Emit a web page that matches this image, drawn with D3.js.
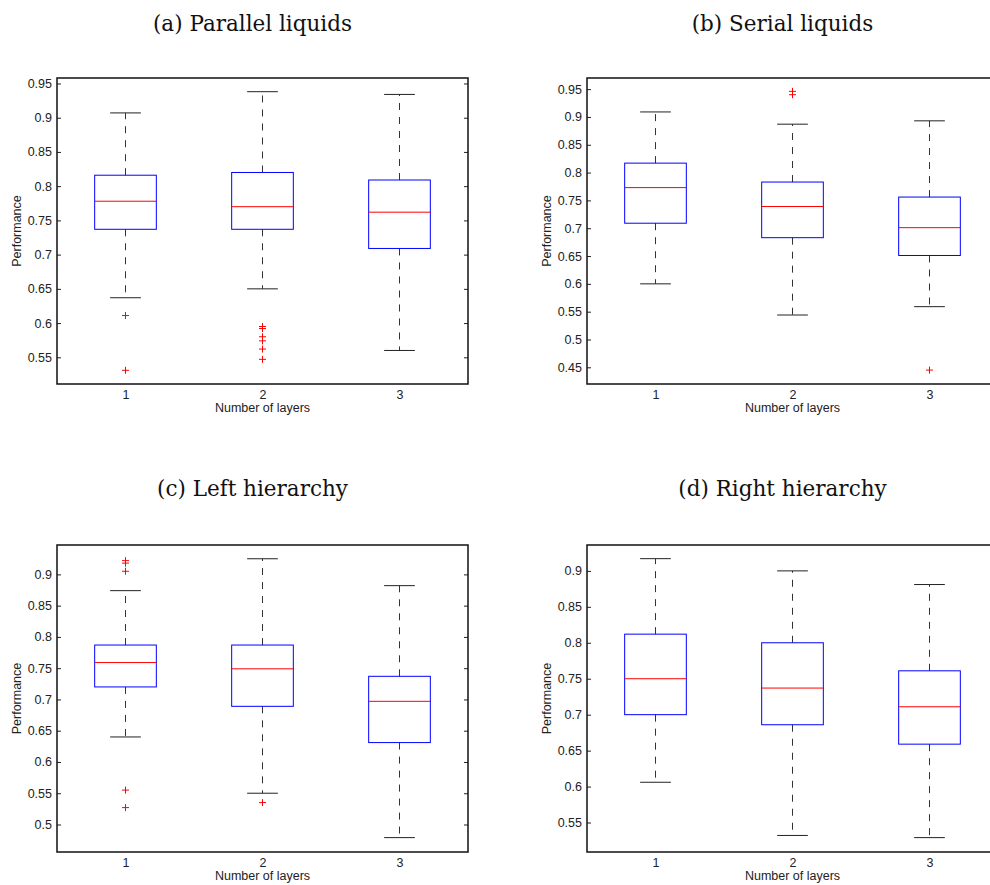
<!DOCTYPE html>
<html>
<head>
<meta charset="utf-8">
<script src="https://cdn.jsdelivr.net/npm/d3@7"></script>
<style>
  body { margin: 0; background: #fff; }
  .tick text { font-family: "Liberation Sans", Arial, sans-serif; font-size: 12.5px; fill: #222; }
  .axis-label { font-family: "Liberation Sans", Arial, sans-serif; font-size: 12.5px; fill: #222; }
  .title { font-family: "DejaVu Serif", serif; font-size: 21.5px; fill: #111; }
</style>
</head>
<body>
<div id="chart"></div>
<script>
// x categories
var layers = [1, 2, 3];

// panel titles
var titles = ["(a) Parallel liquids", "(b) Serial liquids", "(c) Left hierarchy", "(d) Right hierarchy"];

// box stats per layer: [lower whisker, q1, median, q3, upper whisker]
var parallelStats = [
  [0.637, 0.737, 0.778, 0.816, 0.907],
  [0.650, 0.737, 0.770, 0.820, 0.938],
  [0.560, 0.709, 0.762, 0.809, 0.934]
];
var serialStats = [
  [0.600, 0.709, 0.773, 0.817, 0.909],
  [0.544, 0.683, 0.739, 0.783, 0.887],
  [0.559, 0.651, 0.701, 0.756, 0.893]
];
var leftStats = [
  [0.640, 0.720, 0.759, 0.787, 0.874],
  [0.550, 0.689, 0.749, 0.787, 0.925],
  [0.479, 0.631, 0.697, 0.737, 0.882]
];
var rightStats = [
  [0.606, 0.700, 0.750, 0.812, 0.917],
  [0.532, 0.686, 0.737, 0.800, 0.900],
  [0.529, 0.659, 0.711, 0.761, 0.881]
];

// outliers per layer
var parallelOutliers = [[0.611, 0.531], [0.595, 0.592, 0.580, 0.574, 0.562, 0.547], []];
var serialOutliers = [[], [0.946, 0.940], [0.445]];
var leftOutliers = [[0.922, 0.918, 0.905, 0.555, 0.527], [0.535], []];
var rightOutliers = [[], [], []];

// y axis ranges and ticks
var yDomains = [[0.511, 0.958], [0.420, 0.970], [0.456, 0.947], [0.509, 0.936]];
var yTicks = [
  [0.55, 0.6, 0.65, 0.7, 0.75, 0.8, 0.85, 0.9, 0.95],
  [0.45, 0.5, 0.55, 0.6, 0.65, 0.7, 0.75, 0.8, 0.85, 0.9, 0.95],
  [0.5, 0.55, 0.6, 0.65, 0.7, 0.75, 0.8, 0.85, 0.9],
  [0.55, 0.6, 0.65, 0.7, 0.75, 0.8, 0.85, 0.9]
];

var allStats = [parallelStats, serialStats, leftStats, rightStats];
var allOutliers = [parallelOutliers, serialOutliers, leftOutliers, rightOutliers];

var svgWidth = 990;
var svgHeight = 885;

var svg = d3.select("#chart")
  .append("svg")
  .attr("width", svgWidth)
  .attr("height", svgHeight);

// panel boxes in page pixels
var panels = [
  { left: 57, top: 78, width: 411, height: 306, titleY: 31 },
  { left: 587, top: 78, width: 411, height: 306, titleY: 31 },
  { left: 57, top: 545, width: 411, height: 307, titleY: 496 },
  { left: 587, top: 545, width: 411, height: 307, titleY: 496 }
];

var boxWidth = 0.45;
var capWidth = 0.224;

var fmt = function(d) { return String(+d.toFixed(2)); };

panels.forEach(function(p, i) {
  var stats = allStats[i];
  var outliers = allOutliers[i];

  var g = svg.append("g")
    .attr("transform", `translate(${p.left}, ${p.top})`);

  var x = d3.scaleLinear().domain([0.5, 3.5]).range([0, p.width]);
  var y = d3.scaleLinear().domain(yDomains[i]).range([p.height, 0]);

  // left axis, ticks inside
  var yAxis = g.append("g")
    .call(d3.axisLeft(y).tickValues(yTicks[i]).tickSize(-4).tickPadding(5).tickFormat(fmt));
  yAxis.select(".domain").remove();
  yAxis.selectAll(".tick line").attr("stroke", "#222");

  // right side ticks
  var yAxisR = g.append("g")
    .attr("transform", `translate(${p.width}, 0)`)
    .call(d3.axisRight(y).tickValues(yTicks[i]).tickSize(-4).tickFormat(""));
  yAxisR.select(".domain").remove();
  yAxisR.selectAll(".tick line").attr("stroke", "#222");

  // x axis labels only
  var xAxis = g.append("g")
    .attr("transform", `translate(0, ${p.height})`)
    .call(d3.axisBottom(x).tickValues(layers).tickSize(0).tickPadding(6).tickFormat(d3.format("d")));
  xAxis.select(".domain").remove();

  // frame
  g.append("rect")
    .attr("x", 0)
    .attr("y", 0)
    .attr("width", p.width)
    .attr("height", p.height)
    .attr("fill", "none")
    .attr("stroke", "#111")
    .attr("stroke-width", 1.5);

  var boxes = g.selectAll(".bx")
    .data(stats)
    .enter()
    .append("g")
    .attr("class", "bx");

  // whiskers (dashed)
  boxes.append("line")
    .attr("x1", (d, j) => x(layers[j]))
    .attr("x2", (d, j) => x(layers[j]))
    .attr("y1", d => y(d[3]))
    .attr("y2", d => y(d[4]))
    .attr("stroke", "#333")
    .attr("stroke-dasharray", "7,7");

  boxes.append("line")
    .attr("x1", (d, j) => x(layers[j]))
    .attr("x2", (d, j) => x(layers[j]))
    .attr("y1", d => y(d[1]))
    .attr("y2", d => y(d[0]))
    .attr("stroke", "#333")
    .attr("stroke-dasharray", "7,7");

  // whisker caps
  [0, 4].forEach(function(k) {
    boxes.append("line")
      .attr("x1", (d, j) => x(layers[j] - capWidth / 2))
      .attr("x2", (d, j) => x(layers[j] + capWidth / 2))
      .attr("y1", d => y(d[k]))
      .attr("y2", d => y(d[k]))
      .attr("stroke", "#222");
  });

  // boxes
  boxes.append("rect")
    .attr("x", (d, j) => x(layers[j] - boxWidth / 2))
    .attr("width", x(boxWidth) - x(0))
    .attr("y", d => y(d[3]))
    .attr("height", d => y(d[1]) - y(d[3]))
    .attr("fill", "none")
    .attr("stroke", "#0000ff");

  // medians
  boxes.append("line")
    .attr("x1", (d, j) => x(layers[j] - boxWidth / 2))
    .attr("x2", (d, j) => x(layers[j] + boxWidth / 2))
    .attr("y1", d => y(d[2]))
    .attr("y2", d => y(d[2]))
    .attr("stroke", "#ff0000");

  // outliers as + marks
  var pts = [];
  outliers.forEach(function(vals, j) {
    vals.forEach(function(v) { pts.push({ layer: layers[j], value: v }); });
  });
  g.selectAll(".outlier")
    .data(pts)
    .enter()
    .append("path")
    .attr("class", "outlier")
    .attr("d", function(d) {
      var cx = x(d.layer), cy = y(d.value), r = 3.5;
      return `M${cx - r},${cy}H${cx + r}M${cx},${cy - r}V${cy + r}`;
    })
    .attr("stroke", "#ff0000")
    .attr("fill", "none");

  // axis labels
  g.append("text")
    .attr("class", "axis-label")
    .attr("x", p.width / 2)
    .attr("y", p.height + 28)
    .attr("text-anchor", "middle")
    .text("Number of layers");

  g.append("text")
    .attr("class", "axis-label")
    .attr("transform", "rotate(-90)")
    .attr("x", -p.height / 2)
    .attr("y", -36)
    .attr("text-anchor", "middle")
    .text("Performance");

  // panel title
  svg.append("text")
    .attr("class", "title")
    .attr("x", p.left + p.width / 2 - 10)
    .attr("y", p.titleY)
    .attr("text-anchor", "middle")
    .text(titles[i]);
});
</script>
</body>
</html>
